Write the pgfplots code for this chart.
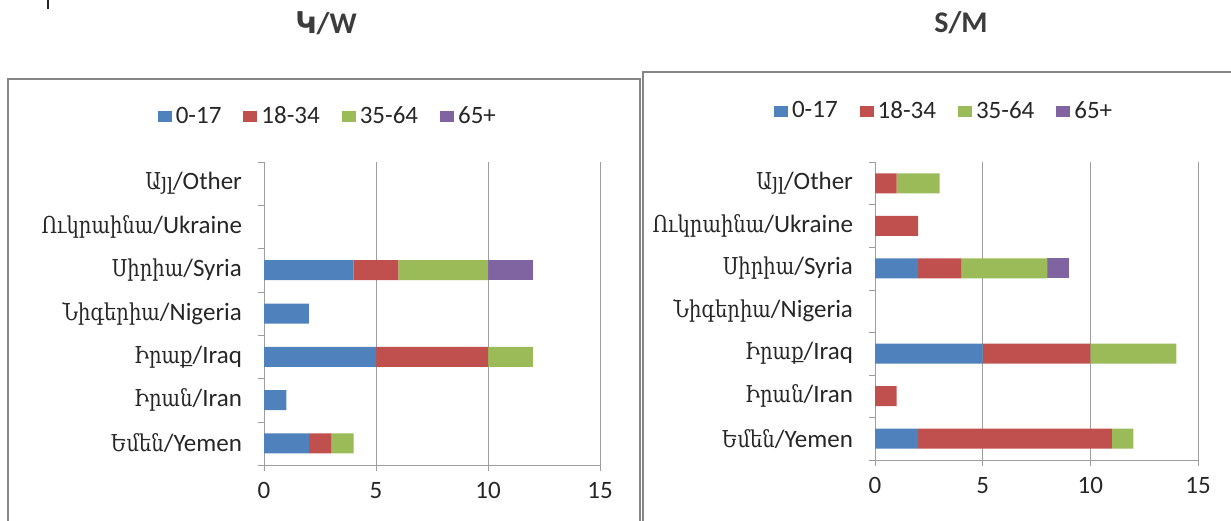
\documentclass[border=0pt]{standalone}
\usepackage{fontspec}
\setmainfont{Carlito}
\newfontfamily\arm{DejaVu Serif}[Scale=0.93, FakeStretch=0.84]
\newfontfamily\armsans{DejaVu Sans}
\usepackage{pgfplots}
\usepackage{pgfplotstable}
\pgfplotsset{compat=1.18}
\definecolor{xblue}{HTML}{4F81BD}
\definecolor{xred}{HTML}{C0504D}
\definecolor{xgreen}{HTML}{9BBB59}
\definecolor{xpurple}{HTML}{8064A2}
\definecolor{frame}{HTML}{868686}
\definecolor{txt}{HTML}{262626}

% cat: 0 Yemen, 1 Iran, 2 Iraq, 3 Nigeria, 4 Syria, 5 Ukraine, 6 Other
\pgfplotstableread{
cat a b c d
0 2 1 1 0
1 1 0 0 0
2 5 5 2 0
3 2 0 0 0
4 4 2 4 2
5 0 0 0 0
6 0 0 0 0
}\women
\pgfplotstableread{
cat a b c d
0 2 9 1 0
1 0 1 0 0
2 5 5 4 0
3 0 0 0 0
4 2 2 4 1
5 0 2 0 0
6 0 1 2 0
}\men

\pgfplotsset{
  panel/.style={
    xbar stacked, bar width=10pt, scale only axis, anchor=south west,
    xmin=0, xmax=15, ymin=-0.5, ymax=6.5,
    xtick={0,5,10,15}, minor xtick={0,5,10,15},
    ytick={0,...,6}, minor ytick={-0.5,0.5,...,6.5},
    yticklabels={{\arm Եմեն}/Yemen,{\arm Իրան}/Iran,{\arm Իրաք}/Iraq,{\arm Նիգերիա}/Nigeria,{\arm Սիրիա}/Syria,{\arm Ուկրաինա}/Ukraine,{\arm Այլ}/Other},
    yticklabel style={xshift=-7.5pt},
    axis x line=bottom, axis y line=left,
    axis line style={frame!80,-},
    tick align=outside, major tick length=0pt, minor tick length=3pt,
    tick style={frame!80},
    xmajorgrids, grid style={frame!80, line width=0.5pt},
    /pgf/number format/assume math mode=true,
    tick label style={font=\fontsize{12.5}{14}\selectfont, text=txt},
    xticklabel style={yshift=-5pt},
    legend columns=4,
    legend style={draw=none, fill=none, anchor=center,
      font=\fontsize{12.5}{14}\selectfont, text=txt,
      /tikz/every even column/.append style={column sep=9pt}},
    legend image code/.code={\fill[##1, draw=none] (0pt,-2.6pt) rectangle (7pt,2.6pt);},
    every axis plot/.append style={draw=none},
  }
}

\begin{document}
\begin{tikzpicture}[x=1pt,y=1pt]
\useasboundingbox (0,0) rectangle (615.5,260);
\clip (0,0) rectangle (615.5,260);
\draw[frame, line width=1pt] (4,-5) -- (4,220.5) -- (320,220.5) -- (320,-5);
\draw[frame, line width=1pt] (321.5,-5) -- (321.5,224) -- (620,224);
\draw[txt, line width=0.6pt] (24,260) -- (24,255.5);
\node[font=\fontsize{15}{17}\selectfont\bfseries, text=txt!90] at (163,248.5) {{\armsans Կ}/W};
\node[font=\fontsize{15}{17}\selectfont\bfseries, text=txt!90] at (480.5,248.5) {S/M};

\begin{axis}[panel, at={(132pt,27.5pt)}, width=168pt, height=151.5pt,
  legend style={at={(0.193,1.15)}}]
\addplot[fill=xblue] table[x=a, y=cat] {\women};
\addplot[fill=xred] table[x=b, y=cat] {\women};
\addplot[fill=xgreen] table[x=c, y=cat] {\women};
\addplot[fill=xpurple] table[x=d, y=cat] {\women};
\legend{0-17,18-34,35-64,65+}
\end{axis}

\begin{axis}[panel, at={(437.5pt,30pt)}, width=161.5pt, height=149pt,
  legend style={at={(0.217,1.17)}}]
\addplot[fill=xblue] table[x=a, y=cat] {\men};
\addplot[fill=xred] table[x=b, y=cat] {\men};
\addplot[fill=xgreen] table[x=c, y=cat] {\men};
\addplot[fill=xpurple] table[x=d, y=cat] {\men};
\legend{0-17,18-34,35-64,65+}
\end{axis}
\end{tikzpicture}
\end{document}
